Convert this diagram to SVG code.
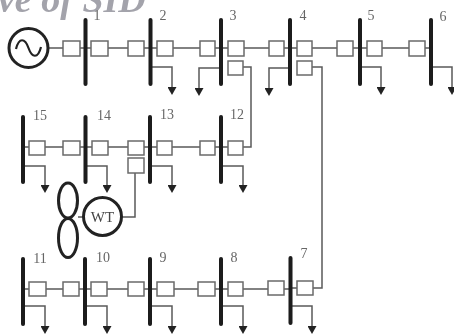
<svg xmlns="http://www.w3.org/2000/svg" width="454" height="336" viewBox="0 0 454 336">
<defs>
<style>
.w{fill:none;stroke:#5a5a5a;stroke-width:1.5}
.b{fill:#fff;stroke:#6a6a6a;stroke-width:1.5}
.bus{fill:none;stroke:#1c1c1c;stroke-width:4;stroke-linecap:round}
.ring{fill:#fff;stroke:#222;stroke-width:3}
text{font-family:"Liberation Serif","Times New Roman",serif}
.l{font-size:14px;fill:#666;text-anchor:middle}
</style>
<marker id="a" markerUnits="userSpaceOnUse" markerWidth="9" markerHeight="9" refX="0" refY="4.500" orient="auto"><path d="M0 0L8 4.500L0 9Z" fill="#222"/></marker>
<filter id="s" x="-5%" y="-5%" width="110%" height="110%"><feGaussianBlur stdDeviation="0.45"/></filter>
</defs>
<rect width="454" height="336" fill="#fff"/>
<g filter="url(#s)">
<text x="-2" y="12" font-size="38" font-weight="bold" font-style="italic" fill="#a3a3ab">ve of SID</text>
<g id="connectors">
<path class="w" d="M48 48H85M85 48H150M150 48H221M221 48H290M290 48H360M360 48H431"/>
<path class="w" d="M23 147H85M85 147H150M150 147H221M221 147H251V67H243"/>
<path class="w" d="M23 289H85M85 289H150M150 289H221M221 289H290M290 288H322V67H312"/>
<path class="w" d="M135 173V217H120M78 217H84"/>
<path class="w" marker-end="url(#a)" d="M150 67H172V87"/>
<path class="w" marker-end="url(#a)" d="M221 68H199V88"/>
<path class="w" marker-end="url(#a)" d="M290 68H269V88"/>
<path class="w" marker-end="url(#a)" d="M360 67H381V87"/>
<path class="w" marker-end="url(#a)" d="M431 67H452V87"/>
<path class="w" marker-end="url(#a)" d="M23 166H45V185"/>
<path class="w" marker-end="url(#a)" d="M85 166H107V185"/>
<path class="w" marker-end="url(#a)" d="M150 166H172V185"/>
<path class="w" marker-end="url(#a)" d="M221 166H243V185"/>
<path class="w" marker-end="url(#a)" d="M23 306H45V326"/>
<path class="w" marker-end="url(#a)" d="M85 306H107V326"/>
<path class="w" marker-end="url(#a)" d="M150 306H172V326"/>
<path class="w" marker-end="url(#a)" d="M221 306H243V326"/>
<path class="w" marker-end="url(#a)" d="M290 306H312V326"/>
</g>
<g id="generator"><circle class="ring" cx="28.500" cy="48" r="19.500"/><path d="M16 49C19 37 25 38 28.500 48S38 59 41 47" fill="none" stroke="#222" stroke-width="2.200"/></g>
<g id="bus1"><path class="bus" d="M85.500 20V84"/><rect class="b" x="63" y="41" width="17" height="15"/><rect class="b" x="91" y="41" width="17" height="15"/><text class="l" x="97" y="20">1</text></g>
<g id="bus2"><path class="bus" d="M150.500 20V84"/><rect class="b" x="128" y="41" width="16" height="15"/><rect class="b" x="157" y="41" width="16" height="15"/><text class="l" x="163" y="20">2</text></g>
<g id="bus3"><path class="bus" d="M221 20V84"/><rect class="b" x="200" y="41" width="15" height="15"/><rect class="b" x="228" y="41" width="16" height="15"/><rect class="b" x="228" y="61" width="15" height="14"/><text class="l" x="233" y="20">3</text></g>
<g id="bus4"><path class="bus" d="M290 20V84"/><rect class="b" x="269" y="41" width="15" height="15"/><rect class="b" x="297" y="41" width="15" height="15"/><rect class="b" x="297" y="61" width="15" height="14"/><text class="l" x="303" y="20">4</text></g>
<g id="bus5"><path class="bus" d="M360 20V84"/><rect class="b" x="337" y="41" width="16" height="15"/><rect class="b" x="367" y="41" width="15" height="15"/><text class="l" x="371" y="20">5</text></g>
<g id="bus6"><path class="bus" d="M431 20V84"/><rect class="b" x="409" y="41" width="16" height="15"/><text class="l" x="443" y="21">6</text></g>
<g id="bus15"><path class="bus" d="M23 117V182"/><rect class="b" x="29" y="141" width="16" height="14"/><text class="l" x="40" y="120">15</text></g>
<g id="bus14"><path class="bus" d="M85.500 117V182"/><rect class="b" x="63" y="141" width="17" height="14"/><rect class="b" x="92" y="141" width="16" height="14"/><text class="l" x="104" y="120">14</text></g>
<g id="bus13"><path class="bus" d="M150 117V182"/><rect class="b" x="128" y="141" width="16" height="14"/><rect class="b" x="128" y="158" width="16" height="15"/><rect class="b" x="157" y="141" width="15" height="14"/><text class="l" x="167" y="119">13</text></g>
<g id="bus12"><path class="bus" d="M221 117V182"/><rect class="b" x="200" y="141" width="15" height="14"/><rect class="b" x="228" y="141" width="15" height="14"/><text class="l" x="237" y="119">12</text></g>
<g id="wt"><ellipse class="ring" cx="68" cy="200.500" rx="9.500" ry="17.500" style="fill:none"/><ellipse class="ring" cx="68" cy="238" rx="9.500" ry="19.500" style="fill:none"/><circle class="ring" cx="102.500" cy="216.500" r="19"/><text x="102.500" y="222" font-size="15" fill="#444" text-anchor="middle">WT</text></g>
<g id="bus11"><path class="bus" d="M23 259V324"/><rect class="b" x="29" y="282" width="17" height="14"/><text class="l" x="40" y="263">11</text></g>
<g id="bus10"><path class="bus" d="M85 259V324"/><rect class="b" x="63" y="282" width="16" height="14"/><rect class="b" x="91" y="282" width="16" height="14"/><text class="l" x="103" y="262">10</text></g>
<g id="bus9"><path class="bus" d="M150 259V324"/><rect class="b" x="128" y="282" width="16" height="14"/><rect class="b" x="157" y="282" width="17" height="14"/><text class="l" x="163" y="262">9</text></g>
<g id="bus8"><path class="bus" d="M221 259V324"/><rect class="b" x="198" y="282" width="17" height="14"/><rect class="b" x="228" y="282" width="15" height="14"/><text class="l" x="234" y="262">8</text></g>
<g id="bus7"><path class="bus" d="M290.500 258V323"/><rect class="b" x="268" y="281" width="16" height="14"/><rect class="b" x="297" y="281" width="16" height="14"/><text class="l" x="304" y="258">7</text></g>
</g>
</svg>
